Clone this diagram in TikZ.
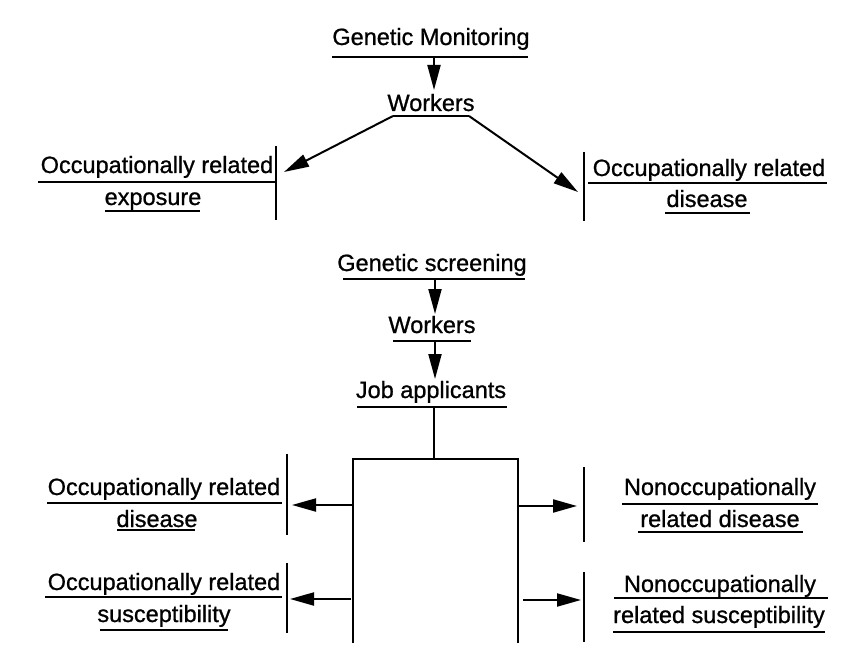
\documentclass[tikz,border=0pt]{standalone}
\usepackage{fontspec}
\setmainfont{Liberation Sans}[BoldFont=Liberation Sans, BoldFeatures={FakeBold=0.9}]
\usetikzlibrary{arrows.meta}
\begin{document}
\begin{tikzpicture}[x=1pt,y=-1pt,
  lbl/.style={anchor=base, inner sep=0pt, font=\fontsize{23.5}{27}\selectfont\bfseries},
  rule/.style={line width=1.6pt},
  bar/.style={line width=2.2pt},
  arr/.style={line width=2pt, -{Triangle[length=25pt,width=13pt]}},
  sarr/.style={line width=2pt, -{Triangle[length=24pt,width=13pt]}},
]
\useasboundingbox (0,0) rectangle (859,663);

% ---------- Genetic monitoring ----------
\node[lbl] (gm) at (431,45) {Genetic Monitoring};
\draw[rule] (332,57) -- (528,57);
\coordinate (gmA) at (434,57);

\node[lbl] (w1) at (431,111) {Workers};
\draw[rule] (393,116) coordinate (w1L) -- (469,116) coordinate (w1R);
\coordinate (w1T) at (434,90);
\draw[arr] (gmA) -- (w1T);

% left: occupationally related exposure
\node[lbl] (ore1) at (157,173) {Occupationally related};
\node[lbl] (ore2) at (153,205) {exposure};
\draw[rule] (38,182) -- (276,182);
\draw[rule] (105,211) -- (200,211);
\draw[bar] (276,146) -- (276,220);
\coordinate (oreT) at (284,172);
\draw[arr] (w1L) -- (oreT);

% right: occupationally related disease
\node[lbl] (ord1) at (709,176) {Occupationally related};
\node[lbl] (ord2) at (707,207) {disease};
\draw[rule] (588,183) -- (827,183);
\draw[rule] (665,213) -- (750,213);
\draw[bar] (584,152) -- (584,221);
\coordinate (ordT) at (578,192);
\draw[arr] (w1R) -- (ordT);

% ---------- Genetic screening ----------
\node[lbl] (gs) at (432,271) {Genetic screening};
\draw[rule] (343,279) -- (525,279);
\coordinate (gsA) at (435,279);

\node[lbl] (w2) at (432,333) {Workers};
\draw[rule] (393,341) -- (471,341);
\coordinate (w2A) at (435,341);
\coordinate (w2T) at (435,314);
\draw[arr] (gsA) -- (w2T);

\node[lbl] (ja) at (431,398) {Job applicants};
\draw[rule] (357,407) -- (507,407);
\coordinate (jaA) at (434,407);
\coordinate (jaT) at (435,379);
\draw[arr] (w2A) -- (jaT);

% frame
\coordinate (bxTop) at (434,459);
\coordinate (bxTL) at (353,459);
\coordinate (bxTR) at (518,459);
\coordinate (bxBL) at (353,643);
\coordinate (bxBR) at (518,643);
\draw[bar] (jaA) -- (bxTop);
\draw[bar] (bxBL) -- (bxTL) -- (bxTR) -- (bxBR);

% left outputs
\node[lbl] (lod1) at (164,495) {Occupationally related};
\node[lbl] (lod2) at (157,527) {disease};
\draw[rule] (47,503) -- (282,503);
\draw[rule] (117,530) -- (195,530);
\draw[bar] (287,454) -- (287,535);

\node[lbl] (los1) at (164,590) {Occupationally related};
\node[lbl] (los2) at (164,622) {susceptibility};
\draw[rule] (45,597) -- (282,597);
\draw[rule] (100,630) -- (228,630);
\draw[bar] (287,563) -- (287,633);

\coordinate (lA1) at (353,505);
\coordinate (lT1) at (292,505);
\coordinate (lA2) at (351,599);
\coordinate (lT2) at (290,599);
\draw[sarr] (lA1) -- (lT1);
\draw[sarr] (lA2) -- (lT2);

% right outputs
\node[lbl] (rnd1) at (720,495) {Nonoccupationally};
\node[lbl] (rnd2) at (720,527) {related disease};
\draw[rule] (622,504) -- (818,504);
\draw[rule] (638,532) -- (803,532);
\draw[bar] (584,467) -- (584,542);

\node[lbl] (rns1) at (720,592) {Nonoccupationally};
\node[lbl] (rns2) at (719,623) {related susceptibility};
\draw[rule] (614,598) -- (828,598);
\draw[rule] (613,632) -- (825,632);
\draw[bar] (584,572) -- (584,642);

\coordinate (rA1) at (518,506);
\coordinate (rT1) at (577,506);
\coordinate (rA2) at (523,600);
\coordinate (rT2) at (581,600);
\draw[sarr] (rA1) -- (rT1);
\draw[sarr] (rA2) -- (rT2);
\end{tikzpicture}
\end{document}
